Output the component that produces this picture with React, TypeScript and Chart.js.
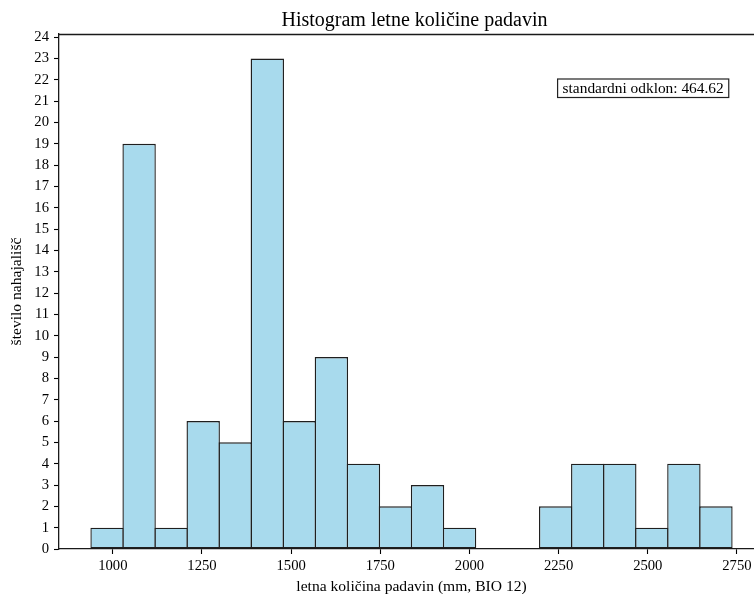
import { useEffect, useRef } from "react";
import { Chart, registerables } from "chart.js";

Chart.register(...registerables);

// Histogram bins: lower edge of the first bin, bin width, and the count in each bin
const binStart = 939;
const binWidth = 89.85;
const counts = [1, 19, 1, 6, 5, 23, 6, 9, 4, 2, 3, 1, 0, 0, 2, 4, 4, 1, 4, 2];

// Axis ticks
const xTicks = [1000, 1250, 1500, 1750, 2000, 2250, 2500, 2750];
const yTicks = [0, 1, 2, 3, 4, 5, 6, 7, 8, 9, 10, 11, 12, 13, 14, 15, 16, 17, 18, 19, 20, 21, 22, 23, 24];

// Texts
const titleText = "Histogram letne količine padavin";
const xLabel = "letna količina padavin (mm, BIO 12)";
const yLabel = "število nahajališč";
const stdDev = 464.62;

const SERIF = "'Liberation Serif', 'Times New Roman', serif";
const BAR_FILL = "#a8daed";
const BAR_EDGE = "#1f1f1f";
const EDGE_WIDTH = 1.4;

export default function App() {
  const canvasRef = useRef<HTMLCanvasElement | null>(null);

  useEffect(() => {
    const canvas = canvasRef.current;
    if (!canvas) return;

    const binEnd = binStart + counts.length * binWidth;
    const span = binEnd - binStart;
    const xMin = binStart - 0.05 * span;
    const xMax = binEnd + 0.05 * span;
    const yMax = Math.max(...counts) * 1.05;

    const points = counts.map((c, i) => ({ x: binStart + (i + 0.5) * binWidth, y: c }));

    const decorations = {
      id: "decorations",
      afterDraw(chart: any) {
        const { ctx, chartArea } = chart;
        const { left, right, top, bottom } = chartArea;
        const w = right - left;
        ctx.save();

        // top frame line
        ctx.strokeStyle = "#1a1a1a";
        ctx.lineWidth = 1.3;
        ctx.beginPath();
        ctx.moveTo(left, top + 0.5);
        ctx.lineTo(right, top + 0.5);
        ctx.stroke();

        ctx.fillStyle = "#000";
        // title
        ctx.font = `20px ${SERIF}`;
        ctx.textAlign = "center";
        ctx.textBaseline = "alphabetic";
        ctx.fillText(titleText, left + w / 2 + 3, 26);

        // x axis title
        ctx.font = `15.6px ${SERIF}`;
        ctx.fillText(xLabel, left + w / 2, 591);

        // y axis title
        ctx.save();
        ctx.translate(17, (top + bottom) / 2);
        ctx.rotate(-Math.PI / 2);
        ctx.textBaseline = "middle";
        ctx.fillText(yLabel, 0, 0);
        ctx.restore();

        // standard deviation box
        const label = `standardni odklon: ${stdDev.toFixed(2)}`;
        ctx.font = `15.4px ${SERIF}`;
        const tw = ctx.measureText(label).width;
        const boxRight = right - 0.05 * w;
        const boxW = tw + 10;
        const boxH = 18.5;
        const boxTop = top + 45;
        ctx.fillStyle = "#fff";
        ctx.fillRect(boxRight - boxW, boxTop, boxW, boxH);
        ctx.strokeStyle = "#222";
        ctx.lineWidth = 1.2;
        ctx.strokeRect(boxRight - boxW, boxTop, boxW, boxH);
        ctx.fillStyle = "#000";
        ctx.textAlign = "center";
        ctx.textBaseline = "middle";
        ctx.fillText(label, boxRight - boxW / 2, boxTop + boxH / 2 + 0.5);

        ctx.restore();
      },
    };

    const chart = new Chart(canvas, {
      type: "bar",
      data: {
        datasets: [
          {
            data: points as any,
            backgroundColor: BAR_FILL,
            borderColor: BAR_EDGE,
            borderWidth: EDGE_WIDTH,
            borderSkipped: false,
            // widen each bar by one edge width so neighbouring edges share a line
            barPercentage: 1.042,
            categoryPercentage: 1,
            inflateAmount: 0,
          } as any,
        ],
      },
      options: {
        animation: false,
        responsive: false,
        maintainAspectRatio: false,
        layout: { padding: { top: 34, left: 0, right: 0, bottom: 0 } },
        plugins: {
          legend: { display: false },
          tooltip: { enabled: false },
          title: { display: false },
        },
        scales: {
          x: {
            type: "linear",
            min: xMin,
            max: xMax,
            offset: false,
            grid: {
              offset: false,
              drawOnChartArea: false,
              drawTicks: true,
              tickLength: 5,
              tickWidth: 1.1,
              color: "#000",
            },
            border: { display: true, color: "#1a1a1a", width: 1.3 },
            ticks: {
              color: "#000",
              padding: 3,
              maxRotation: 0,
              font: { family: SERIF, size: 14.67 },
              callback: (v: any) => String(v),
            },
            afterBuildTicks: (scale: any) => {
              scale.ticks = xTicks.map((v) => ({ value: v }));
            },
            afterFit: (scale: any) => {
              scale.height = 45;
              scale.paddingLeft = 0;
              scale.paddingRight = 0;
            },
          },
          y: {
            type: "linear",
            min: 0,
            max: yMax,
            grid: {
              drawOnChartArea: false,
              drawTicks: true,
              tickLength: 5,
              tickWidth: 1.1,
              color: "#000",
            },
            border: { display: true, color: "#1a1a1a", width: 1.3 },
            ticks: {
              color: "#000",
              padding: 5,
              font: { family: SERIF, size: 14.67 },
              callback: (v: any) => String(v),
            },
            afterBuildTicks: (scale: any) => {
              scale.ticks = yTicks.map((v) => ({ value: v }));
            },
            afterFit: (scale: any) => {
              scale.width = 59;
              scale.paddingTop = 0;
              scale.paddingBottom = 0;
            },
          },
        },
      },
      plugins: [decorations],
    });

    return () => chart.destroy();
  }, []);

  return (
    <div
      style={{
        position: "fixed",
        left: 0,
        top: 0,
        width: 754,
        height: 594,
        overflow: "hidden",
        background: "#fff",
      }}
    >
      <canvas ref={canvasRef} width={764} height={594} style={{ display: "block" }} />
    </div>
  );
}
